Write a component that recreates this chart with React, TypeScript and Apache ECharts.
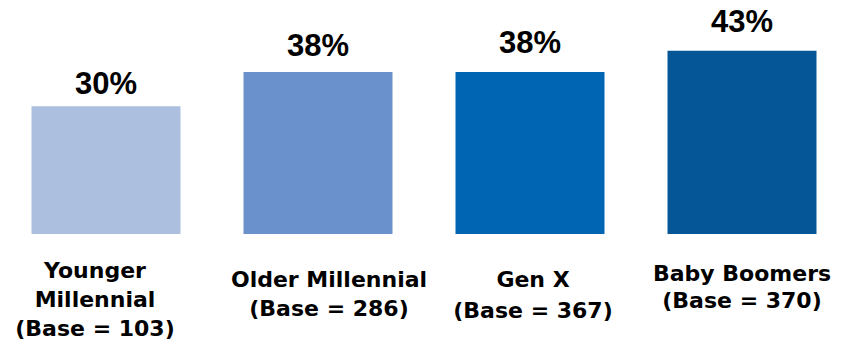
import React, { useEffect, useRef } from "react";
import * as echarts from "echarts";

const categories = [
  "Younger\nMillennial\n(Base = 103)",
  "Older Millennial\n(Base = 286)",
  "Gen X\n(Base = 367)",
  "Baby Boomers\n(Base = 370)",
];
const values = [30, 38, 38, 43];
const barColors = ["#adbfdf", "#6a91cb", "#0066b3", "#045697"];
// per-label fine placement (pixels) to mirror the reference text boxes
const labelDistances = [7, 11, 14, 14];
const catPadding = [
  [0, 22, 0, 0],
  [9, 0, 0, 22],
  [8, 0, 0, 6],
  [4, 0, 0, 0],
];
const catLineHeights = [29, 29, 31, 27];

export default function App() {
  const ref = useRef<HTMLDivElement>(null);
  useEffect(() => {
    if (!ref.current) return;
    const chart = echarts.init(ref.current, undefined, { renderer: "svg" });
    chart.setOption({
      animation: false,
      grid: { left: 0, width: 852, top: 21, bottom: 114, containLabel: false },
      xAxis: {
        type: "category",
        data: categories.map((c, i) => ({
          value: c,
          textStyle: { padding: catPadding[i], lineHeight: catLineHeights[i] },
        })),
        axisLine: { show: false },
        axisTick: { show: false },
        axisLabel: {
          interval: 0,
          margin: 22,
          color: "#000",
          fontFamily: "DejaVu Sans",
          fontWeight: "bold",
          fontSize: 22,
          lineHeight: 29,
        },
      },
      yAxis: {
        type: "value",
        min: 0,
        max: 50,
        show: false,
        splitLine: { show: false },
      },
      series: [
        {
          type: "bar",
          barWidth: 149,
          data: values.map((v, i) => ({
            value: v,
            itemStyle: { color: barColors[i] },
            label: { distance: labelDistances[i] },
          })),
          label: {
            show: true,
            position: "top",
            formatter: "{c}%",
            color: "#000",
            fontFamily: "Liberation Sans, Arial, sans-serif",
            fontWeight: "bold",
            fontSize: 31,
          },
        },
      ],
    });
    return () => chart.dispose();
  }, []);
  return (
    <div
      ref={ref}
      style={{ position: "absolute", left: 0, top: 0, width: 848, height: 348, background: "#fff" }}
    />
  );
}
